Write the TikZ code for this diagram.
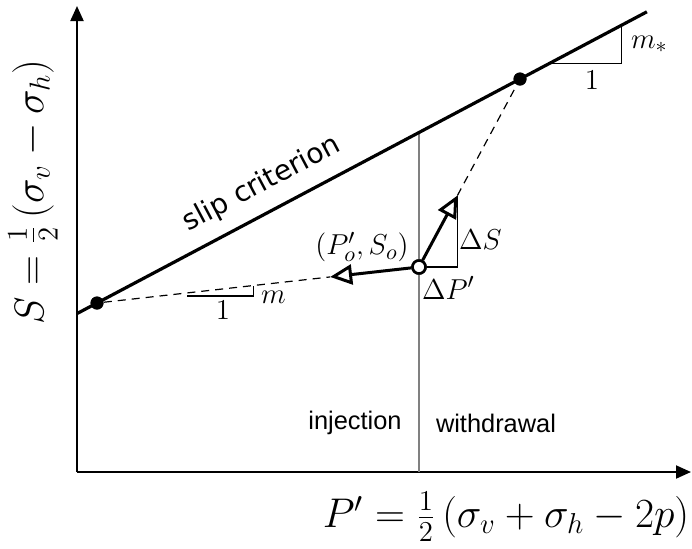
\documentclass[tikz,border=0pt]{standalone}
\usepackage{fontspec}
\setsansfont{Liberation Sans}
\newfontfamily\slipfont{DejaVu Sans}
\usetikzlibrary{arrows.meta,calc}

\begin{document}
\begin{tikzpicture}[x=0.5pt,y=-0.5pt,
  axis/.style={line width=1pt,-{Triangle[length=7.5pt,width=6.5pt]}},
  crit/.style={line width=1.6pt},
  path line/.style={line width=0.6pt,dash pattern=on 4pt off 3pt},
  move/.style={line width=1.5pt,-{Triangle[open,length=11pt,width=10pt,line width=1.5pt]}},
  slope/.style={line width=0.6pt},
  dot/.style={circle,fill,inner sep=0pt,minimum size=6.5pt},
  state/.style={circle,draw,fill=white,line width=1.3pt,inner sep=0pt,minimum size=6.5pt},
  lbl/.style={font=\fontsize{15.5}{18}\selectfont},
  ax lbl/.style={font=\fontsize{20}{24}\selectfont},
  zone/.style={font=\sffamily\fontsize{12.7}{15}\selectfont}]
\useasboundingbox (0,0) rectangle (692,548);
% axes
\coordinate (orig) at (77,472);
\coordinate (ytip) at (77,6);
\coordinate (xtip) at (691,472);
\draw[axis] (orig) -- (ytip);
\draw[axis] (orig) -- (xtip);
% points on the criterion
\node[dot] (A) at (97,303) {};
\node[dot] (B) at (520,79) {};
\node[state] (O) at (419,267) {};
\coordinate (c0) at ($(A)!-0.047!(B)$);
\coordinate (c1) at ($(A)!1.3!(B)$);
\coordinate (wtop) at ($(A)!0.761!(B)$);
\coordinate (dl) at ($(O)!0.276!(A)$);
\coordinate (dr) at ($(O)!0.38!(B)$);
\coordinate (m1) at (187,296);
% injection / withdrawal divide
\draw[gray,line width=0.6pt] (wtop) -- (wtop |- orig);
\draw[crit] (c0) -- (c1);
% stress paths
\draw[path line] (A) -- (dl);
\draw[path line] (dr) -- (B);
\draw[slope] (dr) |- (O);
\draw[move] (O) -- (dl);
\draw[move] (O) -- (dr);
% slopes
\draw[slope] (m1) -| ($(A)!0.485!(O)$);
\draw[slope] ($(A)!1.07!(B)$) -| ($(A)!1.24!(B)$);
\node[dot] at (A) {};
\node[dot] at (B) {};
\node[state] at (O) {};
% labels
\node[lbl,anchor=west] (mlbl) at (254,297) {$m$};
\node[lbl] (one1) at (223,310) {$1$};
\node[lbl,anchor=west] (mslbl) at (624,44) {$m_*$};
\node[lbl] (one2) at (592,80) {$1$};
\node[lbl,anchor=west] (dslbl) at (452,240) {$\Delta S$};
\node[lbl,anchor=west] (dplbl) at (415,288) {$\Delta P'$};
\node[lbl] (olbl) at (362,247) {$(P'_o,S_o)$};
\node[font=\slipfont\fontsize{14}{17}\selectfont,rotate=28] (slip) at (262,184) {slip criterion};
\node[zone] (inj) at (355,423) {injection};
\node[zone] (wd) at (496,423) {withdrawal};
\node[ax lbl] (xlbl) at (506,517) {$P' = \frac{1}{2}\left(\sigma_v+\sigma_h-2p\right)$};
\node[ax lbl,rotate=90] (ylbl) at (33,192) {$S = \frac{1}{2}\left(\sigma_v-\sigma_h\right)$};
\end{tikzpicture}
\end{document}
